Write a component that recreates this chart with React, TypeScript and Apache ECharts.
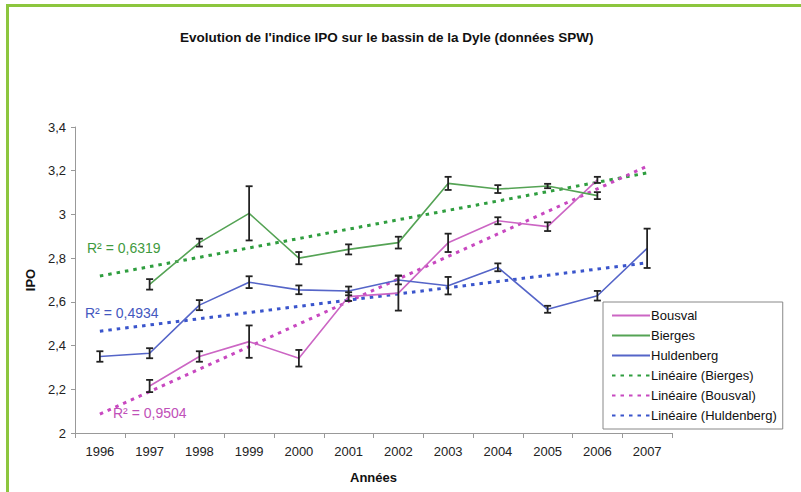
import React, { useEffect, useRef } from "react";
import * as echarts from "echarts";

const years = ["1996", "1997", "1998", "1999", "2000", "2001", "2002", "2003", "2004", "2005", "2006", "2007"];
const bousval = [null, 2.215, 2.35, 2.418, 2.342, 2.624, 2.64, 2.87, 2.971, 2.944, 3.158, null];
const bousvalErr = [null, 0.028, 0.024, 0.074, 0.038, 0.02, 0.08, 0.042, 0.016, 0.02, 0.014, null];
const bierges = [null, 2.68, 2.871, 3.005, 2.8, 2.84, 2.871, 3.142, 3.116, 3.13, 3.086, null];
const biergesErr = [null, 0.024, 0.018, 0.124, 0.028, 0.023, 0.027, 0.03, 0.018, 0.01, 0.016, null];
const huldenberg = [2.35, 2.365, 2.585, 2.69, 2.655, 2.65, 2.7, 2.674, 2.758, 2.566, 2.628, 2.845];
const huldenbergErr = [0.024, 0.023, 0.023, 0.027, 0.02, 0.02, 0.02, 0.04, 0.018, 0.016, 0.022, 0.09];
const r2Labels = ["R² = 0,6319", "R² = 0,4934", "R² = 0,9504"];
const legendNames = ["Bousval", "Bierges", "Huldenberg", "Linéaire (Bierges)", "Linéaire (Bousval)", "Linéaire (Huldenberg)"];

const FONT = "Arial, 'Liberation Sans', sans-serif";

function linearTrend(vals: (number | null)[]) {
  const pts: [number, number][] = [];
  vals.forEach((v, i) => { if (v != null) pts.push([i + 1, v]); });
  const n = pts.length;
  const mx = pts.reduce((s, p) => s + p[0], 0) / n;
  const my = pts.reduce((s, p) => s + p[1], 0) / n;
  let sxy = 0, sxx = 0;
  pts.forEach(([x, y]) => { sxy += (x - mx) * (y - my); sxx += (x - mx) * (x - mx); });
  const b = sxy / sxx;
  const a = my - b * mx;
  return vals.map((_, i) => +(a + b * (i + 1)).toFixed(4));
}

function errSeries(vals: (number | null)[], errs: (number | null)[]) {
  const data: any[] = [];
  vals.forEach((v, i) => { if (v != null && errs[i] != null) data.push([i, v, errs[i]]); });
  return {
    type: "custom",
    z: 5,
    data,
    renderItem: (params: any, api: any) => {
      const i = api.value(0);
      const v = api.value(1);
      const e = api.value(2);
      const top = api.coord([i, v + e]);
      const bot = api.coord([i, v - e]);
      const hw = 3.5;
      const style = { stroke: "#222", lineWidth: 1.8 };
      return {
        type: "group",
        children: [
          { type: "line", shape: { x1: top[0], y1: top[1], x2: bot[0], y2: bot[1] }, style },
          { type: "line", shape: { x1: top[0] - hw, y1: top[1], x2: top[0] + hw, y2: top[1] }, style },
          { type: "line", shape: { x1: bot[0] - hw, y1: bot[1], x2: bot[0] + hw, y2: bot[1] }, style },
        ],
      };
    },
  };
}

export default function App() {
  const ref = useRef<HTMLDivElement>(null);
  useEffect(() => {
    const chart = echarts.init(ref.current!, null, { renderer: "svg" });
    const cPink = "#cc66c4";
    const cGreen = "#55a355";
    const cBlue = "#5565c8";
    const tGreen = "#2f9e3f";
    const tPink = "#c848c0";
    const tBlue = "#3a55cc";
    const lineSeries = (name: string, data: any[], color: string) => ({
      name, type: "line", data, symbol: "none", z: 3,
      lineStyle: { color, width: 1.6 }, itemStyle: { color },
    });
    const trendSeries = (name: string, data: any[], color: string) => ({
      name, type: "line", data, symbol: "none", z: 2,
      lineStyle: { color, width: 3, type: [3.5, 5] }, itemStyle: { color },
    });
    chart.setOption({
      animation: false,
      backgroundColor: "#fff",
      title: {
        text: "Evolution de l'indice IPO sur le bassin de la Dyle (données SPW)",
        left: 175, top: 25,
        textStyle: { fontFamily: FONT, fontSize: 13.5, fontWeight: "bold", color: "#111" },
      },
      grid: { left: 75, right: 129, top: 127, bottom: 59 },
      legend: {
        orient: "vertical",
        left: 603, top: 302,
        data: legendNames,
        itemWidth: 38, itemHeight: 12, itemGap: 7,
        borderColor: "#888", borderWidth: 1,
        padding: [7, 6, 7, 8],
        itemStyle: { color: "rgba(0,0,0,0)", borderWidth: 0, opacity: 0 },
        textStyle: { fontFamily: FONT, fontSize: 13, color: "#111", padding: [0, 0, 0, -4] },
      },
      xAxis: {
        type: "category",
        data: years,
        boundaryGap: true,
        name: "Années",
        nameLocation: "middle",
        nameGap: 38,
        nameTextStyle: { fontFamily: FONT, fontSize: 13, fontWeight: "bold", color: "#111" },
        axisLine: { lineStyle: { color: "#999" } },
        axisTick: { show: true, length: 5, lineStyle: { color: "#999" } },
        axisLabel: { fontFamily: FONT, fontSize: 13, color: "#222", margin: 12 },
      },
      yAxis: {
        type: "value",
        min: 2, max: 3.4, interval: 0.2,
        name: "IPO",
        nameLocation: "middle",
        nameGap: 37,
        nameRotate: 90,
        nameTextStyle: { fontFamily: FONT, fontSize: 13, fontWeight: "bold", color: "#111" },
        axisLine: { show: true, lineStyle: { color: "#999" } },
        axisTick: { show: true, length: 4, lineStyle: { color: "#999" } },
        splitLine: { show: false },
        axisLabel: {
          fontFamily: FONT, fontSize: 13, color: "#222", margin: 9,
          formatter: (v: number) => String(Math.round(v * 10) / 10).replace(".", ","),
        },
      },
      graphic: [
        { type: "rect", shape: { x: 6, y: 4, width: 800, height: 3 }, style: { fill: "#8cc63e" }, silent: true },
        { type: "rect", shape: { x: 6, y: 4, width: 3, height: 490 }, style: { fill: "#8cc63e" }, silent: true },
        { type: "text", left: 87, top: 241, style: { text: r2Labels[0], fill: "#3f9a40", font: `14px ${FONT}` } },
        { type: "text", left: 85, top: 306, style: { text: r2Labels[1], fill: "#4458c0", font: `14px ${FONT}` } },
        { type: "text", left: 113, top: 406, style: { text: r2Labels[2], fill: "#c050b8", font: `14px ${FONT}` } },
      ],
      series: [
        lineSeries("Bousval", bousval, cPink),
        lineSeries("Bierges", bierges, cGreen),
        lineSeries("Huldenberg", huldenberg, cBlue),
        trendSeries("Linéaire (Bierges)", linearTrend(bierges), tGreen),
        trendSeries("Linéaire (Bousval)", linearTrend(bousval), tPink),
        trendSeries("Linéaire (Huldenberg)", linearTrend(huldenberg), tBlue),
        errSeries(bousval, bousvalErr),
        errSeries(bierges, biergesErr),
        errSeries(huldenberg, huldenbergErr),
      ],
    });
    return () => chart.dispose();
  }, []);
  return <div ref={ref} style={{ position: "fixed", left: 0, top: 0, width: 801, height: 492, background: "#fff" }} />;
}
